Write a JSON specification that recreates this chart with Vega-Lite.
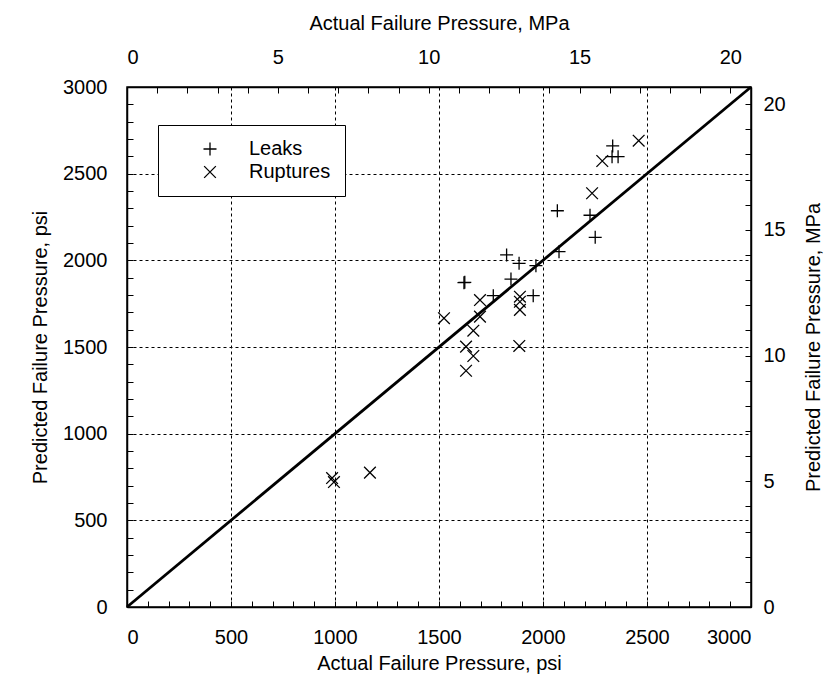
{
  "$schema": "https://vega.github.io/schema/vega-lite/v6.json",
  "width": 624,
  "height": 520,
  "autosize": {"type": "none"},
  "padding": {"left": 127, "top": 87, "right": 87, "bottom": 78},
  "background": "white",
  "config": {
    "view": {"stroke": "black", "strokeWidth": 1.5},
    "axis": {
      "labelFont": "Liberation Sans",
      "titleFont": "Liberation Sans",
      "labelFontSize": 20,
      "titleFontSize": 20,
      "titleFontWeight": "normal",
      "labelColor": "black",
      "titleColor": "black",
      "tickColor": "black",
      "domainColor": "black",
      "domainWidth": 1.5,
      "gridColor": "black",
      "gridDash": [3, 3],
      "gridWidth": 1,
      "tickSize": -6,
      "tickWidth": 1,
      "labelPadding": 26
    },
    "legend": {
      "labelFont": "Liberation Sans",
      "labelFontSize": 20,
      "labelColor": "black"
    }
  },
  "layer": [
    {
      "data": {
        "values": [
          {"type": "Leaks", "actual": 2335, "predicted": 2660},
          {"type": "Leaks", "actual": 2332, "predicted": 2598},
          {"type": "Leaks", "actual": 2361, "predicted": 2598},
          {"type": "Leaks", "actual": 2069, "predicted": 2286},
          {"type": "Leaks", "actual": 2226, "predicted": 2260},
          {"type": "Leaks", "actual": 2251, "predicted": 2133},
          {"type": "Leaks", "actual": 2077, "predicted": 2050},
          {"type": "Leaks", "actual": 1825, "predicted": 2031},
          {"type": "Leaks", "actual": 1885, "predicted": 1983},
          {"type": "Leaks", "actual": 1966, "predicted": 1969},
          {"type": "Leaks", "actual": 1620, "predicted": 1871},
          {"type": "Leaks", "actual": 1624, "predicted": 1873},
          {"type": "Leaks", "actual": 1846, "predicted": 1892},
          {"type": "Leaks", "actual": 1761, "predicted": 1796},
          {"type": "Leaks", "actual": 1953, "predicted": 1796},
          {"type": "Ruptures", "actual": 2285, "predicted": 2573},
          {"type": "Ruptures", "actual": 2460, "predicted": 2690},
          {"type": "Ruptures", "actual": 2236, "predicted": 2387},
          {"type": "Ruptures", "actual": 1697, "predicted": 1771},
          {"type": "Ruptures", "actual": 1889, "predicted": 1790},
          {"type": "Ruptures", "actual": 1889, "predicted": 1761},
          {"type": "Ruptures", "actual": 1889, "predicted": 1714},
          {"type": "Ruptures", "actual": 1524, "predicted": 1666},
          {"type": "Ruptures", "actual": 1697, "predicted": 1675},
          {"type": "Ruptures", "actual": 1665, "predicted": 1594},
          {"type": "Ruptures", "actual": 1630, "predicted": 1502},
          {"type": "Ruptures", "actual": 1665, "predicted": 1448},
          {"type": "Ruptures", "actual": 1886, "predicted": 1506},
          {"type": "Ruptures", "actual": 1630, "predicted": 1363},
          {"type": "Ruptures", "actual": 986, "predicted": 744},
          {"type": "Ruptures", "actual": 995, "predicted": 721},
          {"type": "Ruptures", "actual": 1168, "predicted": 775}
        ]
      },
      "mark": {"type": "point", "filled": false, "color": "black", "strokeWidth": 1.3, "size": 169, "opacity": 1},
      "encoding": {
        "x": {
          "field": "actual", "type": "quantitative",
          "scale": {"domain": [0, 3000], "nice": false},
          "axis": {
            "orient": "bottom",
            "title": "Actual Failure Pressure, psi",
            "titlePadding": 6,
            "values": [0,100,200,300,400,500,600,700,800,900,1000,1100,1200,1300,1400,1500,1600,1700,1800,1900,2000,2100,2200,2300,2400,2500,2600,2700,2800,2900,3000],
            "labelExpr": "datum.value % 500 === 0 ? datum.label : ''",
            "format": "d",
            "grid": true,
            "gridOpacity": {"condition": {"test": "datum.value % 500 === 0", "value": 1}, "value": 0}
          }
        },
        "y": {
          "field": "predicted", "type": "quantitative",
          "scale": {"domain": [0, 3000], "nice": false},
          "axis": {
            "orient": "left",
            "title": "Predicted Failure Pressure, psi",
            "titlePadding": 12,
            "values": [0,100,200,300,400,500,600,700,800,900,1000,1100,1200,1300,1400,1500,1600,1700,1800,1900,2000,2100,2200,2300,2400,2500,2600,2700,2800,2900,3000],
            "labelExpr": "datum.value % 500 === 0 ? datum.label : ''",
            "format": "d",
            "grid": true,
            "gridOpacity": {"condition": {"test": "datum.value % 500 === 0", "value": 1}, "value": 0}
          }
        },
        "shape": {
          "field": "type", "type": "nominal",
          "scale": {"domain": ["Leaks", "Ruptures"], "range": ["M-1,0L1,0M0,-1L0,1", "M-0.9,-0.9L0.9,0.9M-0.9,0.9L0.9,-0.9"]},
          "legend": {
            "title": null,
            "orient": "none",
            "legendX": 31,
            "legendY": 38,
            "strokeColor": "black",
            "fillColor": "white",
            "padding": 14,
            "symbolOffset": 28,
            "labelOffset": 29,
            "symbolSize": 169,
            "symbolStrokeColor": "black",
            "symbolStrokeWidth": 1.3,
            "symbolFillColor": "transparent",
            "rowPadding": 3,
            "encode": {"legend": {"update": {"strokeWidth": {"value": 1.5}}}}
          }
        }
      }
    },
    {
      "data": {
        "values": [
          {"actual_mpa": 0, "predicted_mpa": 0},
          {"actual_mpa": 20.684, "predicted_mpa": 20.684}
        ]
      },
      "mark": {"type": "line", "color": "black", "strokeWidth": 2.8},
      "encoding": {
        "x": {
          "field": "actual_mpa", "type": "quantitative",
          "scale": {"domain": [0, 20.684], "nice": false},
          "axis": {
            "orient": "top",
            "title": "Actual Failure Pressure, MPa",
            "titlePadding": 14,
            "values": [0,1,2,3,4,5,6,7,8,9,10,11,12,13,14,15,16,17,18,19,20],
            "labelExpr": "datum.value % 5 === 0 ? datum.label : ''",
            "grid": false
          }
        },
        "y": {
          "field": "predicted_mpa", "type": "quantitative",
          "scale": {"domain": [0, 20.684], "nice": false},
          "axis": {
            "orient": "right",
            "title": "Predicted Failure Pressure, MPa",
            "titleAngle": 270,
            "titlePadding": 38,
            "labelPadding": 18,
            "values": [0,1,2,3,4,5,6,7,8,9,10,11,12,13,14,15,16,17,18,19,20],
            "labelExpr": "datum.value % 5 === 0 ? datum.label : ''",
            "grid": false
          }
        }
      }
    }
  ],
  "resolve": {"scale": {"x": "independent", "y": "independent"}, "axis": {"x": "independent", "y": "independent"}}
}
